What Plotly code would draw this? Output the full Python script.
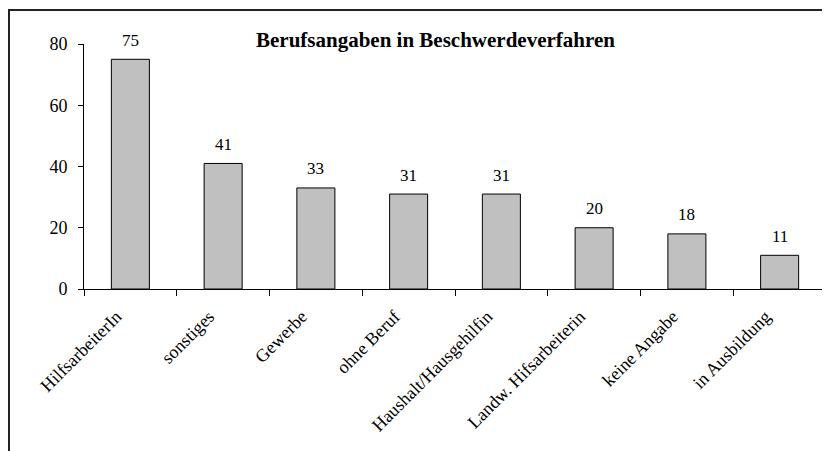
import plotly.graph_objects as go

categories = ["HilfsarbeiterIn", "sonstiges", "Gewerbe", "ohne Beruf",
              "Haushalt/Hausgehilfin", "Landw. Hifsarbeiterin", "keine Angabe", "in Ausbildung"]
values = [75, 41, 33, 31, 31, 20, 18, 11]
y_ticks = [0, 20, 40, 60, 80]
title_text = "Berufsangaben in Beschwerdeverfahren"

FONT = "Liberation Serif"

OFF = 8  # default page body margin
W, H = 830 - OFF, 451 - OFF
L, R, T = 84 - OFF, 4, 44 - OFF
B = H - (289 - OFF)
pw, ph = W - L - R, H - T - B


def px_x(p):
    return (p - OFF - L) / pw


def px_y(p):
    return (H - B - (p - OFF)) / ph


fig = go.Figure()
fig.add_trace(go.Bar(
    x=categories, y=values,
    marker=dict(color="#C0C0C0", line=dict(color="#000000", width=1)),
    hoverinfo="x+y",
))

for c, v in zip(categories, values):
    fig.add_annotation(x=c, y=v, text=str(v), showarrow=False, yshift=19,
                       yanchor="middle", font=dict(family=FONT, size=17, color="#000"))

fig.add_annotation(x=px_x(435), xref="paper", y=px_y(40), yref="paper",
                   xanchor="center", yanchor="middle",
                   text="<b>" + title_text + "</b>", showarrow=False,
                   font=dict(family=FONT, size=21, color="#000"))

# outer frame (top and left edges visible)
fig.add_shape(type="line", xref="paper", yref="paper",
              x0=px_x(8), x1=px_x(831), y0=px_y(10), y1=px_y(10),
              line=dict(color="#222", width=2), layer="above")
fig.add_shape(type="line", xref="paper", yref="paper",
              x0=px_x(9), x1=px_x(9), y0=px_y(10), y1=px_y(452),
              line=dict(color="#222", width=2), layer="above")

fig.update_layout(
    width=W, height=H,
    margin=dict(l=L, r=R, t=T, b=B),
    paper_bgcolor="white", plot_bgcolor="white",
    bargap=0.59,
    showlegend=False,
    font=dict(family=FONT, size=17, color="#000"),
    xaxis=dict(showline=True, linecolor="#000", linewidth=1, ticks="outside",
               tickson="boundaries", ticklen=6, tickcolor="#000", tickangle=-45,
               showgrid=False, automargin=False, ticklabelshift=-14, ticklabelstandoff=9,
               tickfont=dict(family=FONT, size=18, color="#000")),
    yaxis=dict(range=[0, 80], tickvals=y_ticks, showline=True, linecolor="#000", linewidth=1,
               ticks="outside", ticklen=5, tickcolor="#000", showgrid=False, zeroline=False,
               automargin=False, ticklabelstandoff=7,
               tickfont=dict(family=FONT, size=18, color="#000")),
)

fig.write_html("out.html", config={"displayModeBar": False})
